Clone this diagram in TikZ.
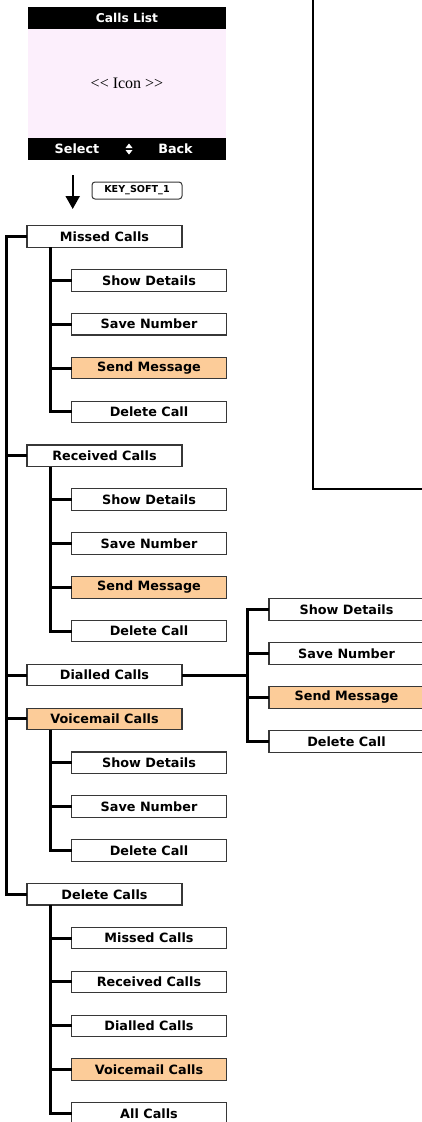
\documentclass[tikz,border=0pt]{standalone}
\usepackage{fontspec}
\setmainfont{DejaVu Sans}
\newfontfamily\iconfont{Liberation Serif}
\usetikzlibrary{arrows.meta}
\definecolor{peach}{RGB}{252,204,153}
\definecolor{screenpink}{RGB}{252,239,252}
\definecolor{boxline}{RGB}{55,55,55}

\begin{document}
\begin{tikzpicture}[x=1pt,y=-1pt,
  menubox/.style={draw=boxline, line width=1.1pt, fill=white,
    minimum width=155pt, minimum height=21.5pt, inner sep=0pt, outer sep=0pt,
    font=\fontsize{12.8}{14}\selectfont\bfseries},
  hilite/.style={fill=peach},
  screenpart/.style={minimum width=198pt, inner sep=0pt, outer sep=0pt},
  softkey/.style={text=white, font=\fontsize{12.8}{14}\selectfont\bfseries},
  tree/.style={line width=3pt, line join=miter},
]
\useasboundingbox (0,0) rectangle (421,1122);

% ---- handset screen ----
\node[screenpart, fill=black, minimum height=22pt, text=white,
      font=\fontsize{12.2}{14}\selectfont\bfseries] (title) at (127,18) {Calls List};
\node[screenpart, fill=screenpink, minimum height=109pt,
      font=\iconfont\fontsize{16}{18}\selectfont] (disp) at (127,83.5) {<{}< Icon >{}>};
\node[screenpart, fill=black, minimum height=22pt] (bar) at (127,149) {};
\node[softkey] (sel) at (77,149) {Select};
\node[softkey] (back) at (175.5,149) {Back};
\node[inner sep=0pt, minimum size=11pt] (updown) at (129,149) {};
\fill[white] (updown.center) ++(-3.5,-1) -- ++(7,0) -- ++(-3.5,-4.5) -- cycle;
\fill[white] (updown.center) ++(-3.5,1) -- ++(7,0) -- ++(-3.5,4.5) -- cycle;

% ---- soft key transition ----
\coordinate (keyfrom) at (72.7,175);
\coordinate (keyto) at (72.7,209);
\draw[line width=2.2pt, -{Triangle[width=14pt,length=13pt]}] (keyfrom) -- (keyto);
\node[draw=boxline, line width=1pt, rounded corners=3pt, fill=white,
      minimum width=90pt, minimum height=17pt, inner sep=0pt,
      font=\fontsize{9.6}{10}\selectfont\bfseries] (key) at (137,190.5) {KEY\_SOFT\_1};

% ---- menu tree ----
\def\rowy#1{236.5+43.85*#1}
\node[menubox] (m1)  at (104.5,{\rowy{0}})  {Missed Calls};
\node[menubox] (m1a) at (149,{\rowy{1}})    {Show Details};
\node[menubox] (m1b) at (149,{\rowy{2}})    {Save Number};
\node[menubox, hilite] (m1c) at (149,{\rowy{3}}) {Send Message};
\node[menubox] (m1d) at (149,{\rowy{4}})    {Delete Call};

\node[menubox] (m2)  at (104.5,{\rowy{5}})  {Received Calls};
\node[menubox] (m2a) at (149,{\rowy{6}})    {Show Details};
\node[menubox] (m2b) at (149,{\rowy{7}})    {Save Number};
\node[menubox, hilite] (m2c) at (149,{\rowy{8}}) {Send Message};
\node[menubox] (m2d) at (149,{\rowy{9}})    {Delete Call};

\node[menubox] (m3)  at (104.5,{\rowy{10}}) {Dialled Calls};
\node[menubox] (m3a) at (346.5,609.5)       {Show Details};
\node[menubox] (m3b) at (346.5,653.5)       {Save Number};
\node[menubox, hilite] (m3c) at (346.5,697.5) {Send Message};
\node[menubox] (m3d) at (346.5,741.5)       {Delete Call};

\node[menubox, hilite] (m4) at (104.5,{\rowy{11}}) {Voicemail Calls};
\node[menubox] (m4a) at (149,{\rowy{12}})   {Show Details};
\node[menubox] (m4b) at (149,{\rowy{13}})   {Save Number};
\node[menubox] (m4c) at (149,{\rowy{14}})   {Delete Call};

\node[menubox] (m5)  at (104.5,{\rowy{15}}) {Delete Calls};
\node[menubox] (m5a) at (149,{\rowy{16}})   {Missed Calls};
\node[menubox] (m5b) at (149,{\rowy{17}})   {Received Calls};
\node[menubox] (m5c) at (149,{\rowy{18}})   {Dialled Calls};
\node[menubox, hilite] (m5d) at (149,{\rowy{19}}) {Voicemail Calls};
\node[menubox] (m5e) at (149,{\rowy{20}})   {All Calls};

% main trunk
\coordinate (trunk) at (6,0);
\draw[tree] (m1.west) -- (m1.west -| trunk) |- (m5.west);
\foreach \n in {m2,m3,m4} \draw[tree] (\n.west) -- (\n.west -| trunk);

% sub-trunks below a parent entry
\foreach \p/\first/\last in {m1/m1a/m1d, m2/m2a/m2d, m4/m4a/m4c, m5/m5a/m5e} {
  \coordinate (\p s) at ([xshift=23pt]\p.south west);
  \draw[tree] (\p s) |- (\last.west);
}
\foreach \c/\p in {m1a/m1,m1b/m1,m1c/m1, m2a/m2,m2b/m2,m2c/m2,
                   m4a/m4,m4b/m4, m5a/m5,m5b/m5,m5c/m5,m5d/m5}
  \draw[tree] (\c.west) -- (\c.west -| \p s);

% side branch of the dialled list
\coordinate (m3s) at (247,0);
\draw[tree] (m3.east) -- (m3.east -| m3s);
\draw[tree] (m3a.west) -- (m3a.west -| m3s) -- (m3d.west -| m3s) -- (m3d.west);
\foreach \c in {m3b,m3c} \draw[tree] (\c.west) -- (\c.west -| m3s);

% connector arriving from the next screen
\coordinate (linktop) at (313,-3);
\coordinate (linkbend) at (313,489);
\coordinate (linkend) at (425,489);
\draw[line width=2.6pt, line join=miter] (linktop) -- (linkbend) -- (linkend);
\end{tikzpicture}
\end{document}
